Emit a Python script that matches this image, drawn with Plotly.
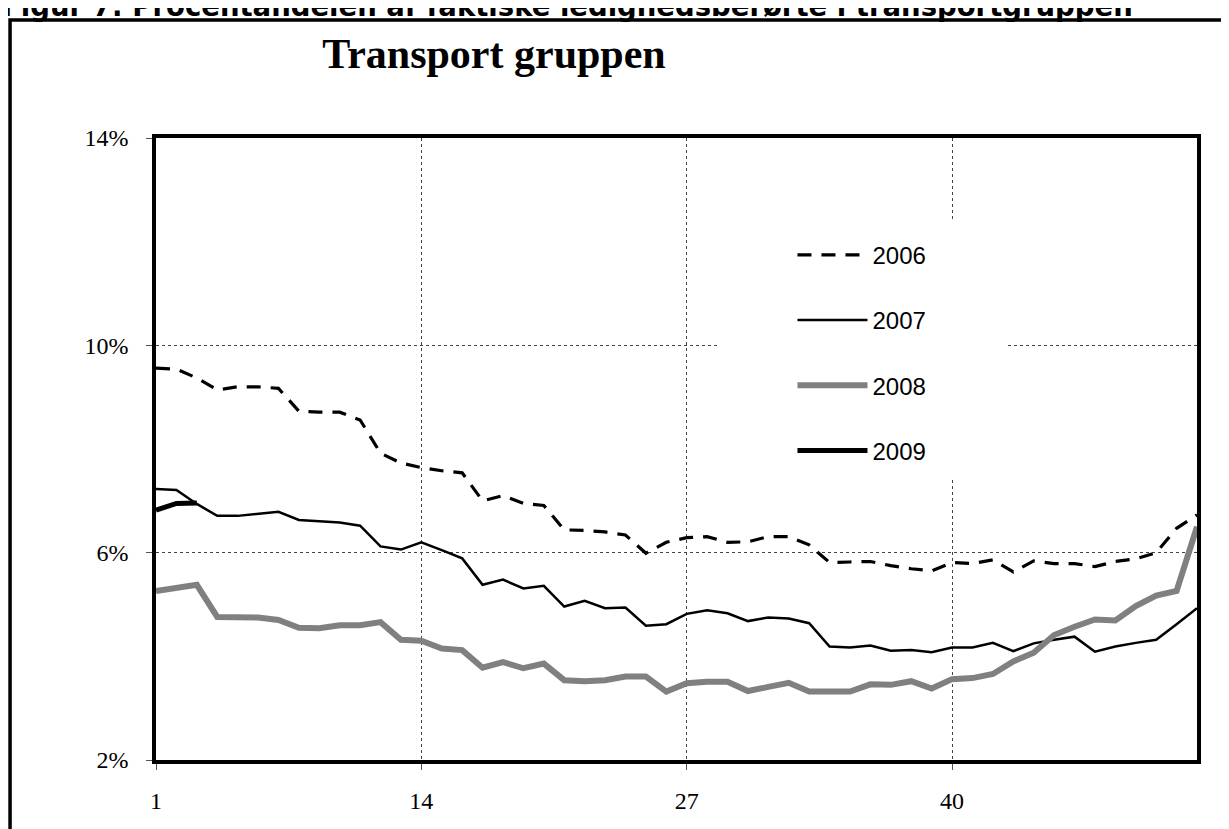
import plotly.graph_objects as go

# uger 1-52 og andel ledighedsberørte (%) i transportgruppen
weeks = list(range(1, 53))
share_2006 = [9.56, 9.54, 9.37, 9.14, 9.20, 9.20, 9.17, 8.73, 8.71, 8.71, 8.56, 7.92, 7.73,
              7.64, 7.58, 7.54, 7.00, 7.10, 6.95, 6.91, 6.44, 6.43, 6.40, 6.34, 5.99, 6.20,
              6.29, 6.31, 6.20, 6.21, 6.31, 6.31, 6.15, 5.81, 5.82, 5.83, 5.75, 5.69, 5.65,
              5.81, 5.79, 5.86, 5.63, 5.84, 5.79, 5.79, 5.73, 5.83, 5.88, 6.00, 6.47, 6.73]
share_2007 = [7.23, 7.21, 6.94, 6.71, 6.71, 6.75, 6.79, 6.63, 6.60, 6.58, 6.52, 6.12, 6.06,
              6.20, 6.05, 5.89, 5.38, 5.48, 5.31, 5.36, 4.96, 5.07, 4.93, 4.94, 4.59, 4.62,
              4.82, 4.89, 4.83, 4.68, 4.75, 4.73, 4.64, 4.19, 4.17, 4.21, 4.11, 4.12, 4.08,
              4.17, 4.17, 4.26, 4.10, 4.25, 4.32, 4.38, 4.09, 4.19, 4.26, 4.32, 4.62, 4.93]
share_2008 = [5.26, 5.31, 5.38, 4.76, 4.75, 4.75, 4.70, 4.55, 4.54, 4.60, 4.60, 4.66, 4.32,
              4.30, 4.15, 4.12, 3.78, 3.89, 3.77, 3.86, 3.54, 3.52, 3.54, 3.61, 3.61, 3.32,
              3.48, 3.51, 3.51, 3.33, 3.41, 3.49, 3.32, 3.32, 3.32, 3.46, 3.45, 3.52, 3.38,
              3.56, 3.58, 3.66, 3.90, 4.07, 4.41, 4.57, 4.71, 4.69, 4.97, 5.17, 5.26, 6.50]
share_2009 = [6.82, 6.95, 6.96]

x_ticks = [1, 14, 27, 40]
y_ticks = [2, 6, 10, 14]
y_tick_labels = ["2%", "6%", "10%", "14%"]

fig = go.Figure()

# ❶ de fire år
fig.add_trace(go.Scatter(x=weeks, y=share_2006, name="2006", mode="lines", legendgroup="a",
                         line=dict(color="black", width=3.2, dash="14px,10px")))
fig.add_trace(go.Scatter(x=weeks, y=share_2007, name="2007", mode="lines", legendgroup="b",
                         line=dict(color="black", width=2.5)))
fig.add_trace(go.Scatter(x=weeks, y=share_2008, name="2008", mode="lines", legendgroup="c",
                         line=dict(color="#808080", width=6)))
fig.add_trace(go.Scatter(x=weeks[:len(share_2009)], y=share_2009, name="2009", mode="lines",
                         legendgroup="d", line=dict(color="black", width=5)))

# ❷ akser
axis_font = dict(family="Liberation Serif", size=24, color="black")
fig.update_xaxes(range=[1, 52], tickvals=x_ticks, tickfont=axis_font,
                 showline=True, linecolor="black", linewidth=3.5, mirror=True,
                 ticks="outside", ticklen=6, tickcolor="#555", ticklabelstandoff=10,
                 showgrid=True, gridcolor="#444", gridwidth=1, griddash="dot", zeroline=False)
fig.update_yaxes(range=[2, 14], tickvals=y_ticks, ticktext=y_tick_labels, tickfont=axis_font,
                 showline=True, linecolor="black", linewidth=3.5, mirror=True,
                 ticks="outside", ticklen=6, tickcolor="#555", ticklabelstandoff=13,
                 showgrid=True, gridcolor="#444", gridwidth=1, griddash="dot", zeroline=False)

# ❸ hvid baggrund bag forklaringen og ydre ramme
fig.add_shape(type="rect", xref="x", yref="y", x0=28.5, x1=42.6, y0=7.4, y1=12.38,
              fillcolor="white", line_width=0, layer="between")
fig.add_shape(type="rect", xref="paper", yref="paper", x0=-0.1402, x1=1.045,
              y0=-0.14, y1=1.1897, line=dict(color="black", width=3.5))

# overskriften er skåret af i toppen som i originalen
fig.add_annotation(text="Figur 7: Procentandelen af faktiske ledighedsberørte i transportgruppen",
                   xref="paper", yref="paper", x=-0.1499, y=1.1833, xanchor="left",
                   yanchor="bottom", showarrow=False,
                   font=dict(family="DejaVu Sans", size=27.5, color="black", weight="bold"))

# siden har 8px margen i body, derfor 1221x821
fig.update_layout(
    width=1221, height=821,
    margin=dict(l=148, r=32, t=130, b=69),
    paper_bgcolor="white", plot_bgcolor="white",
    title=dict(text="<b>Transport gruppen</b>", x=486 / 1221, xanchor="center",
               y=1 - 45 / 821, yanchor="middle",
               font=dict(family="Liberation Serif", size=42, color="black")),
    legend=dict(x=0.6114, y=0.8477, xanchor="left", yanchor="top", bgcolor="rgba(0,0,0,0)",
                font=dict(family="Liberation Sans", size=24, color="black"),
                tracegroupgap=31, itemwidth=70),
    showlegend=True,
)

fig.write_html("out.html")
